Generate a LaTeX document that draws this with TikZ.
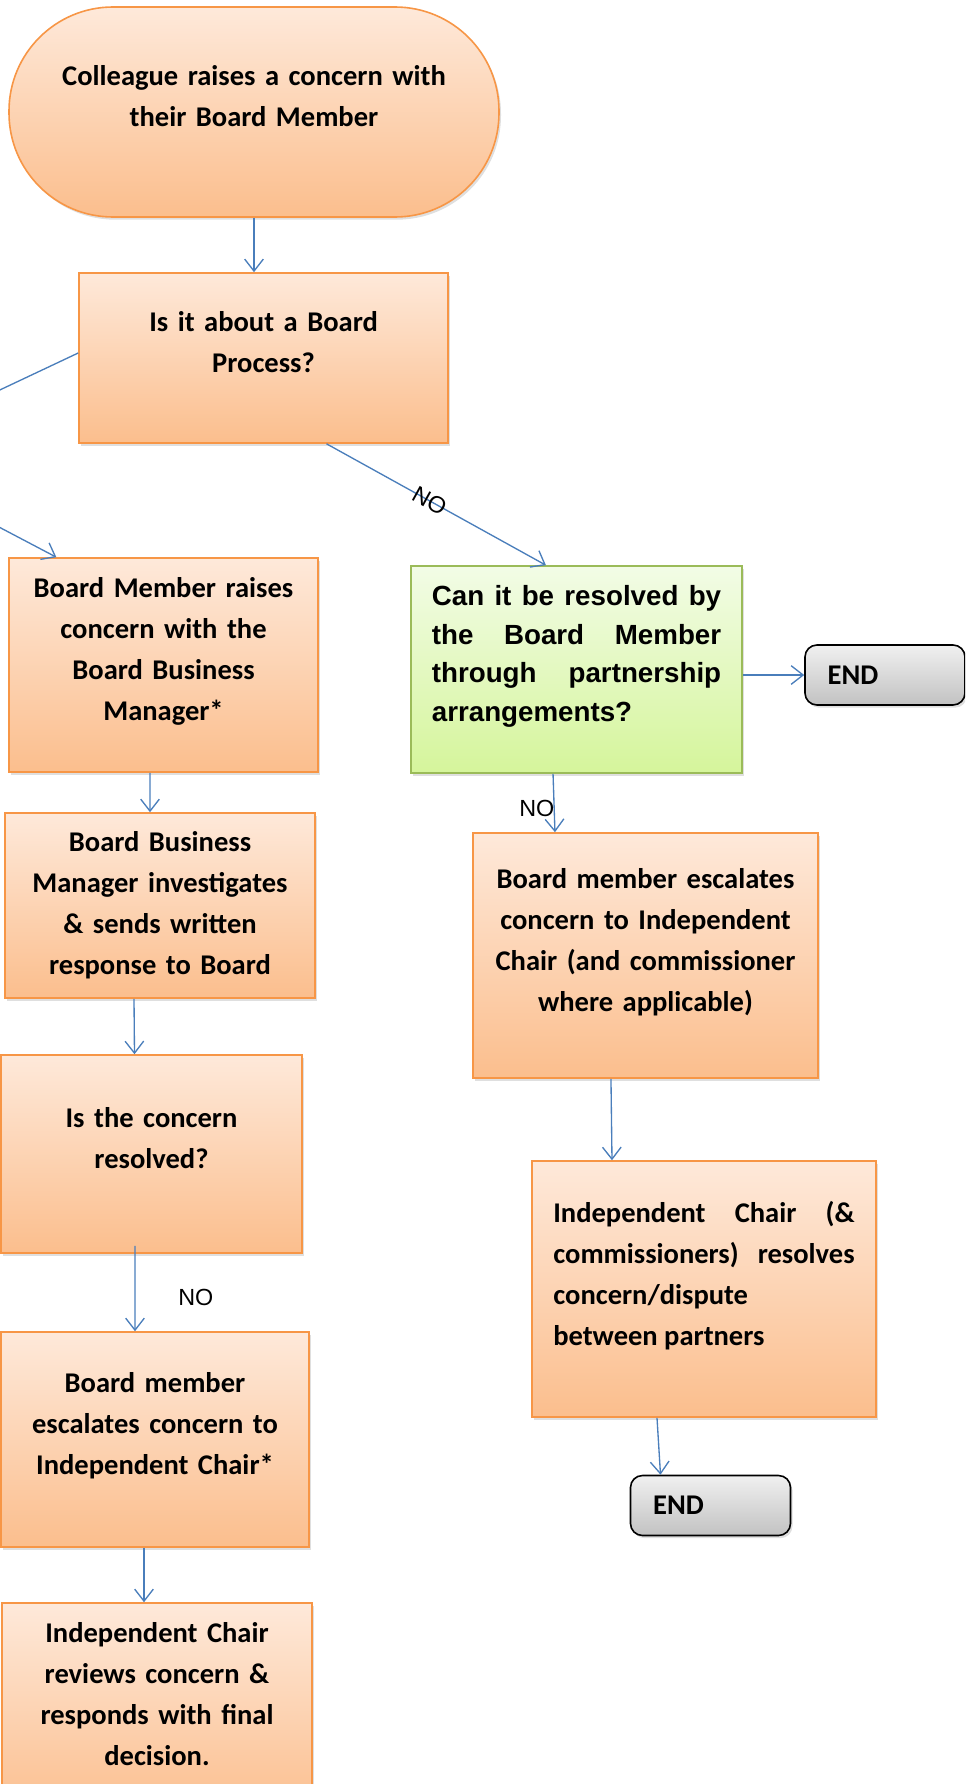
\documentclass[tikz,border=0pt]{standalone}
\usepackage{fontspec}
\newfontfamily\calibfont{Carlito}
\newfontfamily\arialfont{Liberation Sans}
\usepackage{xcolor}
\usetikzlibrary{positioning,arrows.meta,calc,shadows}
\definecolor{orline}{HTML}{F79646}
\definecolor{ortop}{HTML}{FEE9DA}
\definecolor{orbot}{HTML}{FBBE8D}
\definecolor{grline}{HTML}{9BBB59}
\definecolor{grtop}{HTML}{F2FCE6}
\definecolor{grbot}{HTML}{D5F59B}
\definecolor{gytop}{HTML}{F0F0F0}
\definecolor{gybot}{HTML}{C2C2C2}
\definecolor{flowblue}{HTML}{4A7EBB}
\tikzset{
box/.style={
draw=orline,
line width=1.2pt,
top color=ortop,
bottom color=orbot,
align=center,
inner sep=4pt,
font=\calibfont\bfseries\fontsize{21.4}{30.75}\selectfont,
drop shadow={shadow xshift=1.5pt,shadow yshift=-2pt,opacity=0.25}
},
qbox/.style={
box,
draw=grline,
top color=grtop,
bottom color=grbot,
align=justify,
font=\arialfont\bfseries\fontsize{20.8}{29}\selectfont
},
endbox/.style={
draw=black,
line width=1.2pt,
rounded corners=9pt,
top color=gytop,
bottom color=gybot,
align=left,
inner xsep=17pt,
inner ysep=2pt,
minimum width=120pt,
minimum height=45pt,
text width=86pt,
font=\calibfont\bfseries\fontsize{21.4}{26}\selectfont,
drop shadow={shadow xshift=1.5pt,shadow yshift=-2pt,opacity=0.25}
},
lift/.style={
execute at end node={\rule[-24pt]{0pt}{24pt}}
},
nolabel/.style={
inner sep=0pt,
font=\arialfont\fontsize{17.5}{21}\selectfont
},
flow/.style={
draw=flowblue,
line width=1pt,
-{Straight Barb[length=9pt,width=14pt]}
}
}
\begin{document}
\begin{tikzpicture}[x=0.75pt,y=-0.75pt]
\useasboundingbox (0,0) rectangle (965,1784);
\clip (0,0) rectangle (965,1784);

% left column
\node[box,lift,rounded corners=78pt,minimum width=367.5pt,minimum height=157.5pt,text width=330pt] (start) at (254,112)
{Colleague raises a concern with\\their Board Member};
\node[box,lift,minimum width=276.75pt,minimum height=127.5pt,text width=250pt] (isboard) at (263.5,358)
{Is it about a Board\\Process?};
\node[box,lift,minimum width=231.75pt,minimum height=160.5pt,text width=215pt] (bmraise) at (163.5,665)
{Board Member raises\\concern with the\\Board Business\\Manager*};
\node[box,minimum width=232.5pt,minimum height=138.75pt,text width=215pt] (bbminv) at (160,905.5)
{Board Business\\Manager investigates\\\& sends written\\response to Board};
\node[box,lift,minimum width=225.75pt,minimum height=148.5pt,text width=210pt] (isresolved) at (151.5,1154)
{Is the concern\\resolved?};
\node[box,lift,minimum width=231pt,minimum height=161.25pt,text width=215pt] (bmesc) at (155,1439.5)
{Board member\\escalates concern to\\Independent Chair*};
\node[box,lift,minimum width=232.5pt,minimum height=160.5pt,text width=215pt] (icreview) at (157,1710)
{Independent Chair\\reviews concern \&\\responds with final\\decision.};

% right column
\node[qbox,lift,minimum width=248.25pt,minimum height=155.25pt,text width=217pt] (green) at (576.5,669.5)
{Can it be resolved by\linebreak the Board Member\linebreak through partnership\linebreak arrangements?};
\node[endbox] (end1) at (885,675) {END};
\node[box,lift,minimum width=258.75pt,minimum height=183.75pt,text width=245pt] (bmcomm) at (645.5,955.5)
{Board member escalates\\concern to Independent\\Chair (and commissioner\\where applicable)};
\node[box,lift,align=justify,minimum width=258pt,minimum height=192pt,text width=226pt] (icresolve) at (704,1289)
{Independent Chair (\&\linebreak commissioners) resolves\linebreak concern/dispute\newline between partners};
\node[endbox] (end2) at (710.5,1505.5) {END};

\coordinate (offleft) at (-138,455);

\draw[flow] (start.south) -- (start.south |- isboard.north);
\draw[flow] ([yshift=3.75pt]isboard.west) -- (offleft) -- ($(bmraise.north west)!0.155!(bmraise.north east)$);
\draw[flow] ($(isboard.south west)!0.67!(isboard.south east)$) -- node[nolabel,sloped,pos=0.47]{NO} ($(green.north west)!0.408!(green.north east)$);
\draw[flow] ([xshift=-10.1pt]bmraise.south) -- ([xshift=-7.5pt]bbminv.north);
\draw[flow] ([xshift=-19.5pt]bbminv.south) -- ([xshift=-12.75pt]isresolved.north);
\draw[flow] ([xshift=-12.4pt,yshift=6pt]isresolved.south) -- node[nolabel,pos=0.61,right=32pt]{NO} ([xshift=-15pt]bmesc.north);
\draw[flow] ([xshift=-8.25pt]bmesc.south) -- ([xshift=-9.75pt]icreview.north);
\draw[flow] (green.east |- end1.west) -- (end1.west);
\draw[flow] ([xshift=-17.6pt]green.south) -- node[nolabel,pos=0.59,xshift=-13pt]{NO} ([xshift=-67.9pt]bmcomm.north);
\draw[flow] ([xshift=-25.9pt]bmcomm.south) -- ([xshift=-69pt]icresolve.north);
\draw[flow] ([xshift=-35.25pt]icresolve.south) -- ([xshift=-37.5pt]end2.north);
\end{tikzpicture}
\end{document}
